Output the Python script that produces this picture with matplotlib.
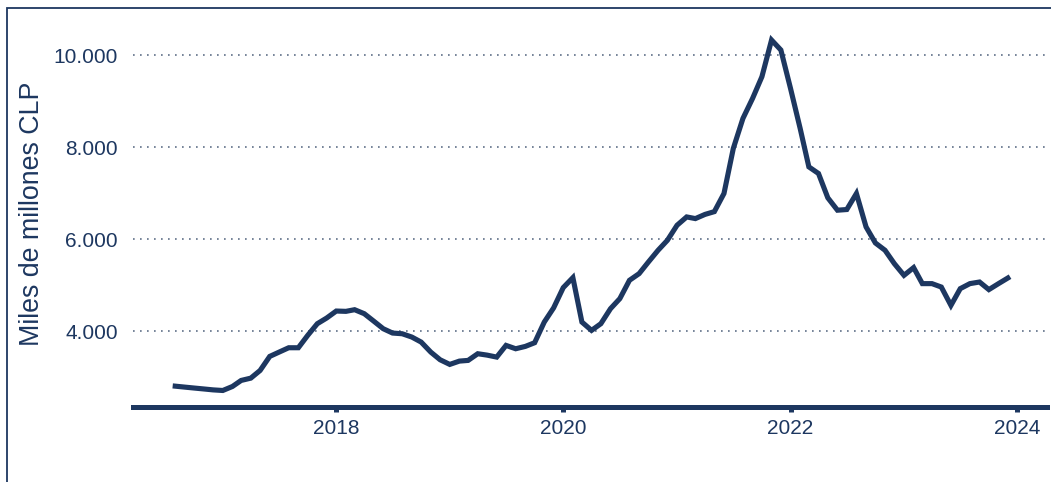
#!/usr/bin/env python3
import matplotlib

matplotlib.use("Agg")
import matplotlib.pyplot as plt
import matplotlib.dates as mdates
import pandas as pd
from matplotlib.patches import Rectangle
from matplotlib.ticker import FuncFormatter

# Serie mensual (ago 2016 - dic 2023), miles de millones CLP
START_MONTH = "2016-08-01"
VALUES = [
    2811, 2790, 2770, 2750, 2730,
    2717, 2804, 2935, 2985, 3152, 3457, 3550, 3645, 3645, 3913, 4167, 4290,
    4442, 4435, 4471, 4384, 4225, 4058, 3964, 3949, 3877, 3768, 3550, 3384,
    3283, 3355, 3370, 3515, 3485, 3442, 3696, 3623, 3674, 3754, 4203, 4510,
    4950, 5167, 4203, 4022, 4167, 4493, 4711, 5109, 5254, 5507, 5761, 5978,
    6304, 6485, 6449, 6540, 6600, 6994, 7972, 8624, 9059, 9529, 10326, 10109,
    9276, 8407, 7572, 7428, 6900, 6631, 6646, 6994, 6268, 5920, 5761, 5471,
    5217, 5385, 5037, 5037, 4963, 4565, 4928, 5037, 5072, 4907, 5037, 5159,
]
Y_TICKS = [4000, 6000, 8000, 10000]
X_TICK_YEARS = [2018, 2020, 2022, 2024]
Y_LABEL = "Miles de millones CLP"

NAVY = "#1d3760"
GRID = "#5f6f88"


def thousands(v, _pos):
    return f"{v:,.0f}".replace(",", ".")


def main() -> int:
    plt.rcParams["font.family"] = ["Liberation Sans", "DejaVu Sans"]

    dates = pd.date_range(START_MONTH, periods=len(VALUES), freq="MS")

    fig = plt.figure(figsize=(10.51, 4.82), dpi=100)
    ax = fig.add_axes([0.1265, 0.1546, 0.8697, 0.779])

    ax.plot(dates, VALUES, color=NAVY, lw=3.7, solid_joinstyle="miter", zorder=3)

    ax.set_xlim(pd.Timestamp("2016-03-18"), pd.Timestamp("2024-04-05"))
    ax.set_ylim(2348, 10500)

    ax.set_yticks(Y_TICKS)
    ax.yaxis.set_major_formatter(FuncFormatter(thousands))
    ax.set_xticks([pd.Timestamp(f"{y}-01-01") for y in X_TICK_YEARS])
    ax.xaxis.set_major_formatter(mdates.DateFormatter("%Y"))

    ax.grid(axis="y", color=GRID, lw=1.2, linestyle=(0, (1, 3.2)))
    ax.set_axisbelow(True)

    for side in ("top", "right", "left"):
        ax.spines[side].set_visible(False)
    ax.spines["bottom"].set_color(NAVY)
    ax.spines["bottom"].set_linewidth(3.6)

    ax.tick_params(axis="y", length=0, pad=11, labelsize=15, labelcolor=NAVY)
    ax.tick_params(axis="x", length=3.5, width=3.6, color=NAVY, pad=5,
                   labelsize=15, labelcolor=NAVY)

    ax.set_ylabel(Y_LABEL, fontsize=19.3, color=NAVY)
    ax.yaxis.set_label_coords(-0.096, 0.516)

    # marco del grafico (recortado a la derecha y abajo)
    frame = Rectangle((7 / 1051, -0.2), 1.2, 1.2 - 8 / 482,
                      transform=fig.transFigure, fill=False,
                      edgecolor=NAVY, lw=1.3, clip_on=False)
    fig.patches.append(frame)

    fig.savefig("out.png", dpi=100)
    plt.close(fig)
    return 0


if __name__ == "__main__":
    raise SystemExit(main())
